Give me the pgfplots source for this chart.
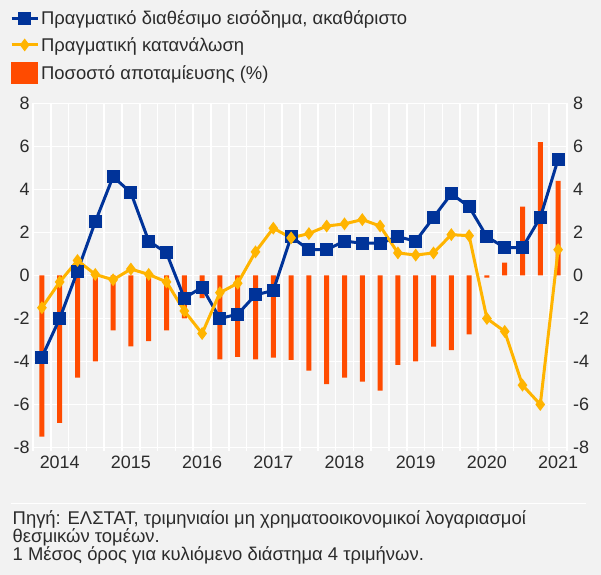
\documentclass[border=0pt]{standalone}
\usepackage{fontspec}
\setmainfont{Liberation Sans}
\usepackage{pgfplots}
\pgfplotsset{compat=1.18}
\definecolor{bg}{HTML}{F2F2F2}
\definecolor{cblue}{HTML}{003399}
\definecolor{cyel}{HTML}{FFB400}
\definecolor{corg}{HTML}{FF4B00}
\definecolor{ctext}{HTML}{2B2B2B}
\newcommand{\lblfont}{\fontsize{18}{20}\selectfont}
\newcommand{\txtfont}{\fontsize{18.5}{20}\selectfont}
\pgfplotsset{
  linelegend/.style={legend image code/.code={\draw[mark repeat=2,mark phase=2,##1] plot coordinates {(0bp,0bp) (13bp,0bp) (26bp,0bp)};}},
  barlegend/.style={legend image code/.code={\fill[corg] (0bp,-10.5bp) rectangle (26bp,10.5bp);}},
}
\begin{document}
\begin{tikzpicture}
\fill[bg] (0,0) rectangle (601bp,575bp);
\begin{axis}[
  at={(33bp,127.5bp)}, anchor=south west,
  scale only axis, width=534bp, height=344bp,
  xmin=-0.5, xmax=29.5, ymin=-8, ymax=8,
  axis line style={draw=none},
  xtick={1,5,9,13,17,21,25,29},
  xticklabels={2014,2015,2016,2017,2018,2019,2020,2021},
  minor xtick={-0.5,0.5,...,29.5},
  ytick={-8,-6,...,8},
  xtick pos=bottom, ytick pos=left,
  major tick length=0pt,
  minor tick length=4bp,
  tick align=outside,
  minor tick style={white, line width=1.5bp},
  xminorgrids, ymajorgrids,
  minor grid style={white, line width=1.5bp},
  major grid style={white, line width=1.5bp},
  tick label style={font=\lblfont, text=ctext},
  xticklabel style={inner sep=1bp, yshift=-7.5bp},
  /pgf/number format/assume math mode=true,
  legend style={at={(-0.0431,1.277)}, anchor=north west, draw=none, fill=none,
    font=\txtfont, text=ctext, inner sep=0pt, row sep=7.5bp, cells={anchor=west}},
  legend cell align=left,
]
\addplot[ybar, bar width=5bp, fill=corg, draw=none, forget plot] coordinates {
(0,-7.5) (1,-6.85) (2,-4.75) (3,-4.0) (4,-2.55) (5,-3.3) (6,-3.05) (7,-2.55)
(8,-2.0) (9,-1.05) (10,-3.9) (11,-3.78) (12,-3.9) (13,-3.82) (14,-3.93)
(15,-4.43) (16,-5.05) (17,-4.75) (18,-4.94) (19,-5.36) (20,-4.16) (21,-4.0)
(22,-3.31) (23,-3.47) (24,-2.74) (25,-0.1) (26,0.6) (27,3.2) (28,6.2) (29,4.4)};
\addplot[cblue, line width=3bp, mark=square*, mark size=5bp, forget plot] coordinates {
(0,-3.8) (1,-2.0) (2,0.2) (3,2.5) (4,4.6) (5,3.85) (6,1.6) (7,1.05) (8,-1.05)
(9,-0.55) (10,-2.0) (11,-1.8) (12,-0.9) (13,-0.7) (14,1.8) (15,1.2) (16,1.2)
(17,1.6) (18,1.5) (19,1.5) (20,1.8) (21,1.6) (22,2.7) (23,3.8) (24,3.2)
(25,1.8) (26,1.3) (27,1.3) (28,2.7) (29,5.4)};
\addplot[cyel, line width=3bp, mark=diamond*, mark size=4bp, forget plot] coordinates {
(0,-1.5) (1,-0.3) (2,0.7) (3,0.05) (4,-0.2) (5,0.3) (6,0.05) (7,-0.3) (8,-1.65)
(9,-2.7) (10,-0.8) (11,-0.36) (12,1.1) (13,2.2) (14,1.75) (15,1.95) (16,2.3)
(17,2.4) (18,2.6) (19,2.3) (20,1.05) (21,0.95) (22,1.05) (23,1.9) (24,1.85)
(25,-2.0) (26,-2.6) (27,-5.1) (28,-6.0) (29,1.2)};
\addlegendimage{cblue, line width=3bp, mark=square*, mark size=5bp, linelegend}
\addlegendentry{Πραγματικό διαθέσιμο εισόδημα, ακαθάριστο}
\addlegendimage{cyel, line width=3bp, mark=diamond*, mark size=4bp, linelegend}
\addlegendentry{Πραγματική κατανάλωση}
\addlegendimage{barlegend}
\addlegendentry{Ποσοστό αποταμίευσης (\%)}
\end{axis}
\begin{axis}[
  at={(33bp,127.5bp)}, anchor=south west,
  scale only axis, width=534bp, height=344bp,
  xmin=-0.5, xmax=29.5, ymin=-8, ymax=8,
  axis line style={draw=none},
  xtick=\empty,
  ytick={-8,-6,...,8},
  yticklabel pos=right,
  major tick length=0pt,
  tick label style={font=\lblfont, text=ctext},
  yticklabel style={inner sep=1bp, xshift=5bp},
  /pgf/number format/assume math mode=true,
]
\end{axis}
\draw[white, line width=1.5bp] (11bp,71.7bp) -- (586bp,71.7bp);
\node[anchor=base west, inner sep=0pt, font=\txtfont, text=ctext] at (12.5bp,50.5bp) {Πηγή: ΕΛΣΤΑΤ, τριμηνιαίοι μη χρηματοοικονομικοί λογαριασμοί};
\node[anchor=base west, inner sep=0pt, font=\txtfont, text=ctext] at (12.5bp,33bp) {θεσμικών τομέων.};
\node[anchor=base west, inner sep=0pt, font=\txtfont, text=ctext] at (12.5bp,15bp) {1 Μέσος όρος για κυλιόμενο διάστημα 4 τριμήνων.};
\pgfresetboundingbox
\path (0,0) rectangle (601bp,575bp);
\end{tikzpicture}
\end{document}
